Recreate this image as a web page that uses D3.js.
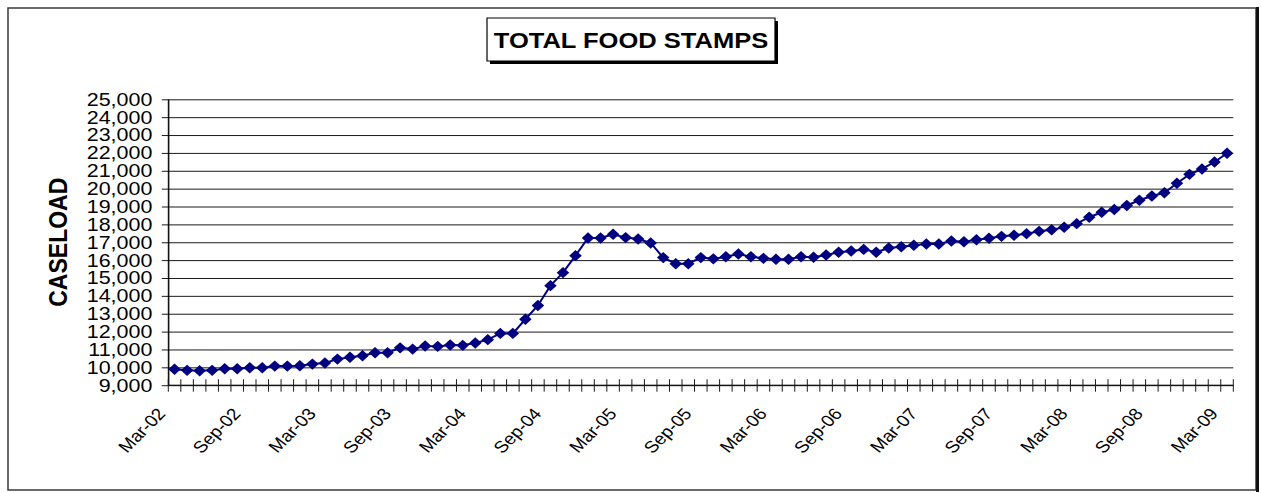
<!DOCTYPE html>
<html>
<head>
<meta charset="utf-8">
<script src="https://cdn.jsdelivr.net/npm/d3@7"></script>
<style>
  html, body { margin: 0; padding: 0; background: #fff; }
  svg { display: block; }
  text { font-family: "Liberation Sans", Arial, sans-serif; fill: #000; }
</style>
</head>
<body>
<div id="chart"></div>
<script>
// Monthly categories, Mar-02 through Mar-09
const months = [
  "Mar-02","Apr-02","May-02","Jun-02","Jul-02","Aug-02","Sep-02","Oct-02","Nov-02","Dec-02",
  "Jan-03","Feb-03","Mar-03","Apr-03","May-03","Jun-03","Jul-03","Aug-03","Sep-03","Oct-03","Nov-03","Dec-03",
  "Jan-04","Feb-04","Mar-04","Apr-04","May-04","Jun-04","Jul-04","Aug-04","Sep-04","Oct-04","Nov-04","Dec-04",
  "Jan-05","Feb-05","Mar-05","Apr-05","May-05","Jun-05","Jul-05","Aug-05","Sep-05","Oct-05","Nov-05","Dec-05",
  "Jan-06","Feb-06","Mar-06","Apr-06","May-06","Jun-06","Jul-06","Aug-06","Sep-06","Oct-06","Nov-06","Dec-06",
  "Jan-07","Feb-07","Mar-07","Apr-07","May-07","Jun-07","Jul-07","Aug-07","Sep-07","Oct-07","Nov-07","Dec-07",
  "Jan-08","Feb-08","Mar-08","Apr-08","May-08","Jun-08","Jul-08","Aug-08","Sep-08","Oct-08","Nov-08","Dec-08",
  "Jan-09","Feb-09","Mar-09"
];

// Total food stamp caseload per month
const caseload = [
  9890, 9830, 9810, 9830, 9920, 9920, 9980, 9980, 10070, 10070,
  10090, 10180, 10240, 10460, 10560, 10650, 10820, 10820, 11090, 11020,
  11190, 11170, 11250, 11230, 11360, 11550, 11900, 11900, 12690, 13460,
  14570, 15300, 16250, 17240, 17240, 17450, 17260, 17180, 16960, 16140,
  15800, 15800, 16140, 16070, 16190, 16340, 16190, 16100, 16050, 16050,
  16190, 16160, 16290, 16440, 16510, 16600, 16440, 16680, 16750, 16830,
  16900, 16900, 17070, 17030, 17140, 17220, 17330, 17390, 17480, 17610,
  17700, 17840, 18040, 18400, 18680, 18830, 19060, 19350, 19590, 19770,
  20300, 20800, 21100, 21490, 21980
];

// Labelled months on the category axis
const xTickLabels = ["Mar-02","Sep-02","Mar-03","Sep-03","Mar-04","Sep-04","Mar-05",
  "Sep-05","Mar-06","Sep-06","Mar-07","Sep-07","Mar-08","Sep-08","Mar-09"];

// Value axis ticks
const yTickValues = [9000,10000,11000,12000,13000,14000,15000,16000,17000,
  18000,19000,20000,21000,22000,23000,24000,25000];

const titleText = "TOTAL FOOD STAMPS";
const yAxisTitle = "CASELOAD";

const W = 1261, H = 493;
const SX = 1.16;               // horizontal stretch of the whole drawing
const L = v => v / SX;         // page x -> drawing x

const plot = { left: 168.3, right: 1233.3, top: 99.3, bottom: 385.2 };

const svg = d3.select("#chart").append("svg")
  .attr("width", W).attr("height", H);

const g = svg.append("g").attr("transform", `scale(${SX},1)`);

// Chart frame
g.append("rect")
  .attr("x", L(8)).attr("y", 8)
  .attr("width", L(1248)).attr("height", 482)
  .attr("fill", "#fff").attr("stroke", "#3a3a3a").attr("stroke-width", 1.5)
  .attr("vector-effect", "non-scaling-stroke");
g.append("rect")
  .attr("x", L(1256)).attr("y", 7)
  .attr("width", L(3)).attr("height", 485)
  .attr("fill", "#111");

// Scales
const x = d3.scaleBand().domain(months).range([L(plot.left), L(plot.right)]).padding(0);
const y = d3.scaleLinear().domain([9000, 25000]).range([plot.bottom, plot.top]);
const bw = x.bandwidth();
const cx = m => x(m) + bw / 2;

// Value axis with gridlines across the plot
const yAxis = g.append("g")
  .attr("transform", `translate(${L(plot.left)},0)`)
  .call(d3.axisLeft(y)
    .tickValues(yTickValues)
    .tickFormat(d3.format(","))
    .tickSizeInner(-(L(plot.right) - L(plot.left)))
    .tickSizeOuter(0)
    .tickPadding(L(16)));
yAxis.select(".domain").attr("stroke", "#000").attr("vector-effect", "non-scaling-stroke");
yAxis.selectAll(".tick line")
  .attr("x1", -L(6.5))
  .attr("stroke", "#1a1a1a").attr("stroke-width", 1)
  .attr("vector-effect", "non-scaling-stroke");
yAxis.selectAll(".tick text")
  .style("font-size", "18.5px")
  .style("font-family", "'Liberation Sans', Arial, sans-serif")
  .attr("fill", "#000");

// Vertical value axis line
g.append("line")
  .attr("x1", L(plot.left)).attr("x2", L(plot.left))
  .attr("y1", plot.top).attr("y2", plot.bottom)
  .attr("stroke", "#000").attr("vector-effect", "non-scaling-stroke");

// Category axis: labels at band centres, slanted at 45 degrees on the page
const slant = Math.atan(SX) * 180 / Math.PI;
const xAxis = g.append("g")
  .attr("transform", `translate(0,${plot.bottom})`)
  .call(d3.axisBottom(x).tickValues(xTickLabels).tickSize(0).tickPadding(0));
xAxis.select(".domain").remove();
xAxis.selectAll(".tick text")
  .style("font-size", "16.5px")
  .style("font-family", "'Liberation Sans', Arial, sans-serif")
  .attr("fill", "#000")
  .attr("text-anchor", "end")
  .attr("x", 0).attr("y", 0).attr("dy", 0)
  .attr("transform", `translate(${L(-8)},29) rotate(${-slant})`);

// Category axis line and tick marks between months
g.append("line")
  .attr("x1", L(plot.left)).attr("x2", L(plot.right))
  .attr("y1", plot.bottom).attr("y2", plot.bottom)
  .attr("stroke", "#000").attr("vector-effect", "non-scaling-stroke");
const boundaries = months.map(m => x(m)).concat([x(months[months.length - 1]) + bw]);
g.append("g").selectAll("line").data(boundaries).join("line")
  .attr("x1", d => d).attr("x2", d => d)
  .attr("y1", plot.bottom - 6).attr("y2", plot.bottom + 6.5)
  .attr("stroke", "#1a1a1a").attr("vector-effect", "non-scaling-stroke");

// Caseload series
const line = d3.line()
  .x((d, i) => cx(months[i]))
  .y(d => y(d));
g.append("path")
  .datum(caseload)
  .attr("d", line)
  .attr("fill", "none")
  .attr("stroke", "#000080")
  .attr("stroke-width", 2)
  .attr("vector-effect", "non-scaling-stroke");

g.append("g").selectAll("path").data(caseload).join("path")
  .attr("d", "M0,-5.7L5.4,0L0,5.7L-5.4,0Z")
  .attr("transform", (d, i) => `translate(${cx(months[i])},${y(d)})`)
  .attr("fill", "#000080");

// Title box with drop shadow
const tb = { x: 487, y: 18, w: 288, h: 43 };
g.append("rect")
  .attr("x", L(tb.x + 3)).attr("y", tb.y + 3)
  .attr("width", L(tb.w)).attr("height", tb.h)
  .attr("fill", "#000");
g.append("rect")
  .attr("x", L(tb.x)).attr("y", tb.y)
  .attr("width", L(tb.w)).attr("height", tb.h)
  .attr("fill", "#fff").attr("stroke", "#000").attr("stroke-width", 1.2)
  .attr("vector-effect", "non-scaling-stroke");
g.append("text")
  .attr("x", L(tb.x + tb.w / 2)).attr("y", 48)
  .attr("text-anchor", "middle")
  .style("font-size", "22px").style("font-weight", "bold")
  .text(titleText);

// Value axis title
g.append("text")
  .attr("transform", `translate(${L(67)},${(plot.top + plot.bottom) / 2}) rotate(-90)`)
  .attr("text-anchor", "middle")
  .style("font-size", "23px").style("font-weight", "bold")
  .text(yAxisTitle);
</script>
</body>
</html>
